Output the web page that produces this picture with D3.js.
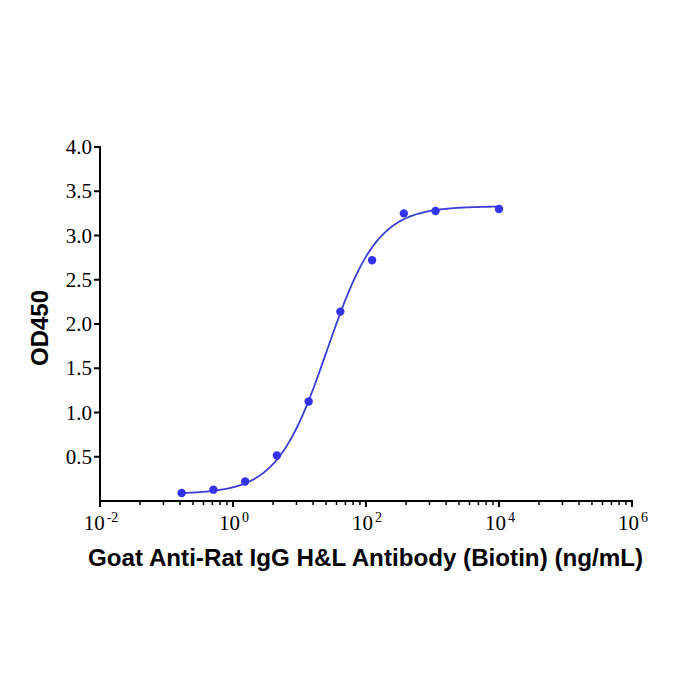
<!DOCTYPE html>
<html>
<head>
<meta charset="utf-8">
<script src="https://cdn.jsdelivr.net/npm/d3@7"></script>
<style>
  body { margin: 0; background: #fff; }
  svg { display: block; }
</style>
</head>
<body>
<svg width="700" height="700"></svg>
<script>
// concentrations (ng/mL) and OD450 readings
var conc = [0.169, 0.508, 1.524, 4.572, 13.72, 41.15, 123.5, 370.4, 1111, 10000];
var od = [0.09, 0.128, 0.221, 0.515, 1.124, 2.14, 2.72, 3.25, 3.276, 3.30];

// 4PL fit parameters
var fitBottom = 0.08, fitTop = 3.33, fitEC50 = 26, fitHill = 1.15;

var xTicks = [1e-2, 1e0, 1e2, 1e4, 1e6];
var xTickExp = ["-2", "0", "2", "4", "6"];
var yTicks = [0.5, 1.0, 1.5, 2.0, 2.5, 3.0, 3.5, 4.0];

var svg = d3.select("svg");

var x = d3.scaleLog().domain([1e-2, 1e6]).range([100, 632]);
var y = d3.scaleLinear().domain([0, 4]).range([501, 147]);

var fit = function(c) {
	return fitBottom + (fitTop - fitBottom) / (1 + Math.pow(fitEC50 / c, fitHill));
};

// minor ticks: Prism style, k^2 * 10^m inside each 2-decade interval
var minor = [];
xTicks.slice(0, -1).forEach(function(m) {
	d3.range(2, 10).forEach(function(k) { minor.push(m * k * k); });
});

var axes = svg.append("g").attr("stroke", "#000").attr("stroke-width", 2);

axes.append("line")
	.attr("x1", x(1e-2) - 1).attr("x2", x(1e6) + 1)
	.attr("y1", y(0)).attr("y2", y(0));
axes.append("line")
	.attr("x1", x(1e-2)).attr("x2", x(1e-2))
	.attr("y1", y(4) - 1).attr("y2", y(0) + 1);

axes.selectAll(".xmaj")
	.data(xTicks)
	.enter().append("line")
	.attr("x1", function(d) { return x(d); })
	.attr("x2", function(d) { return x(d); })
	.attr("y1", y(0)).attr("y2", y(0) + 6);

axes.selectAll(".xmin")
	.data(minor)
	.enter().append("line")
	.attr("stroke-width", 1.5)
	.attr("x1", function(d) { return x(d); })
	.attr("x2", function(d) { return x(d); })
	.attr("y1", y(0)).attr("y2", y(0) + 4);

axes.selectAll(".ymaj")
	.data(yTicks)
	.enter().append("line")
	.attr("x1", x(1e-2) - 6).attr("x2", x(1e-2))
	.attr("y1", function(d) { return y(d); })
	.attr("y2", function(d) { return y(d); });

// tick labels
svg.selectAll(".ylab")
	.data(yTicks)
	.enter().append("text")
	.attr("x", 92)
	.attr("y", function(d) { return y(d) + 7; })
	.attr("text-anchor", "end")
	.attr("font-family", "Liberation Serif, Times New Roman, serif")
	.attr("font-size", 21)
	.text(function(d) { return d.toFixed(1); });

var xl = svg.selectAll(".xlab")
	.data(xTicks)
	.enter().append("text")
	.attr("x", function(d) { return x(d) + 1; })
	.attr("y", 530)
	.attr("text-anchor", "middle")
	.attr("font-family", "Liberation Serif, Times New Roman, serif")
	.attr("font-size", 21);
xl.append("tspan").text("10");
xl.append("tspan")
	.attr("dx", 2)
	.attr("dy", -8)
	.attr("font-size", 14)
	.text(function(d, i) { return xTickExp[i]; });

// axis titles
svg.append("text")
	.attr("x", 88)
	.attr("y", 566)
	.attr("textLength", 555)
	.attr("lengthAdjust", "spacingAndGlyphs")
	.attr("font-family", "Liberation Sans, Arial, sans-serif")
	.attr("font-weight", "bold")
	.attr("font-size", 24)
	.text("Goat Anti-Rat IgG H&L Antibody (Biotin) (ng/mL)");

svg.append("text")
	.attr("transform", "translate(47.5,328) rotate(-90)")
	.attr("text-anchor", "middle")
	.attr("font-family", "Liberation Sans, Arial, sans-serif")
	.attr("font-weight", "bold")
	.attr("font-size", 24)
	.text("OD450");

// fitted curve
var lo = Math.log10(conc[0]), hi = Math.log10(conc[conc.length - 1]);
var curve = d3.range(0, 201).map(function(i) {
	var c = Math.pow(10, lo + (hi - lo) * i / 200);
	return [c, fit(c)];
});

svg.append("path")
	.datum(curve)
	.attr("fill", "none")
	.attr("stroke", "#3c3cd6")
	.attr("stroke-width", 1.8)
	.attr("d", d3.line()
		.x(function(d) { return x(d[0]); })
		.y(function(d) { return y(d[1]); }));

svg.selectAll(".pt")
	.data(conc)
	.enter().append("circle")
	.attr("cx", function(d) { return x(d); })
	.attr("cy", function(d, i) { return y(od[i]); })
	.attr("r", 4.2)
	.attr("fill", "#3434ee");
</script>
</body>
</html>
